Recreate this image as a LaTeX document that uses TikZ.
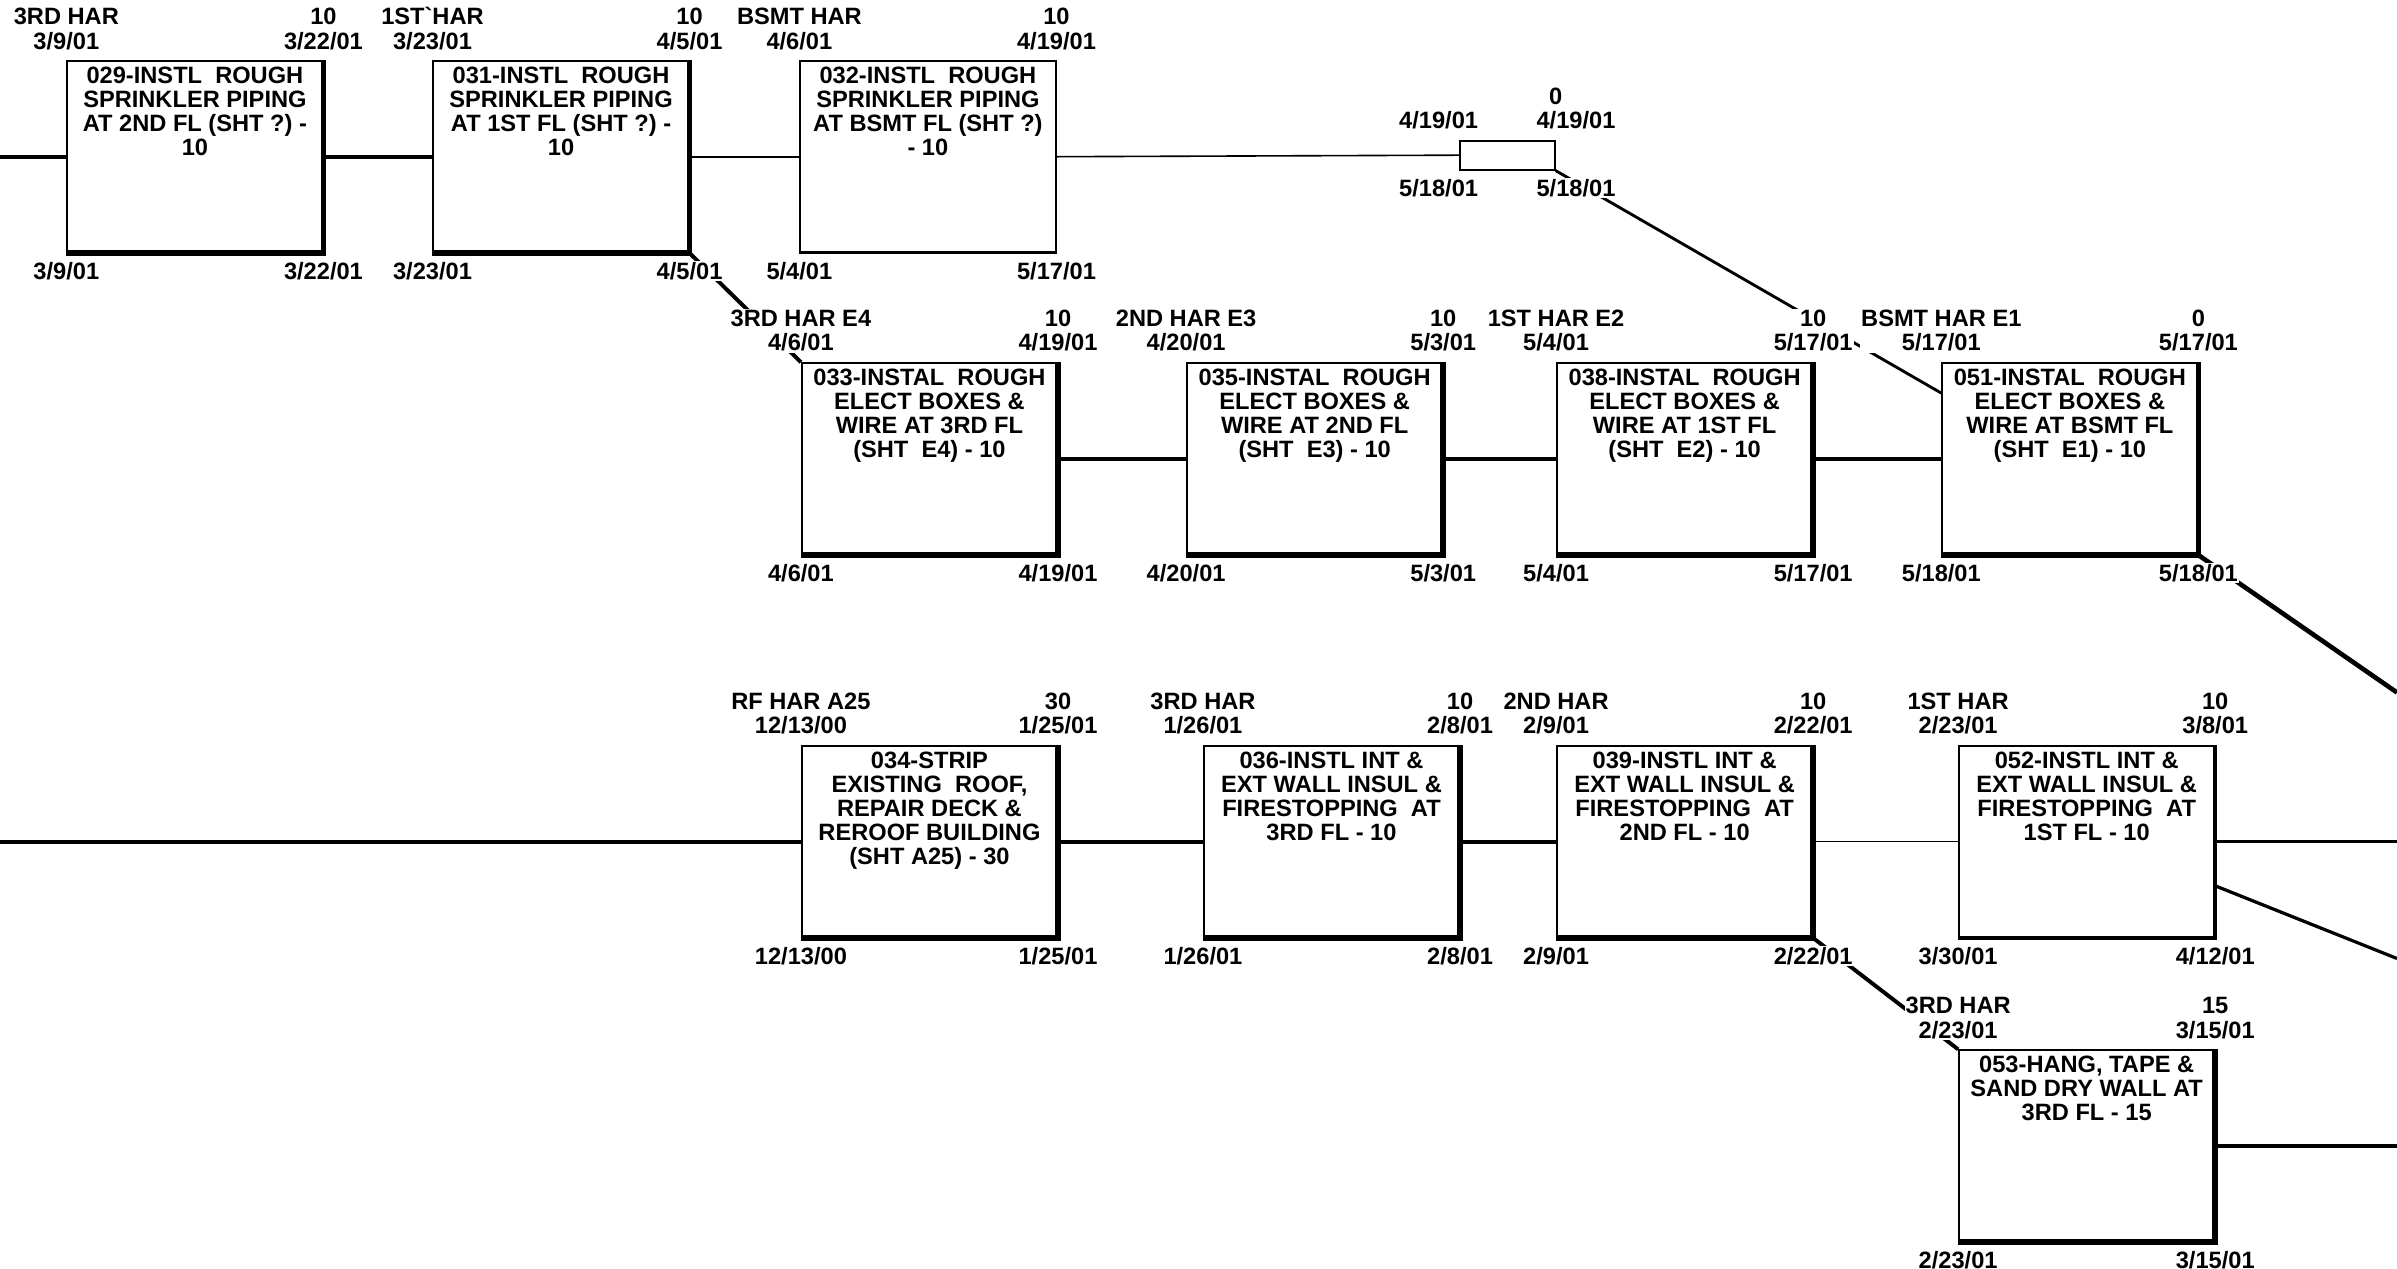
\documentclass[tikz,border=0pt]{standalone}
\usepackage{fontspec}
\setmainfont{Liberation Sans}

\pgfdeclarelayer{bg}
\pgfsetlayers{bg,main}

\newcommand{\boxfont}{\fontsize{6.6}{6.75}\selectfont\bfseries}
\newcommand{\lblfont}{\fontsize{6.6}{6.9}\selectfont\bfseries}

% activity box with its four date labels
\newcommand{\activity}[8][crit]{%
  \node[#1] (#2) at (#3) {\parbox[c][1.875cm][t]{2.505cm}{\centering\vspace*{1.6pt}#4}};
  \draw[#1edge] (#2.north east) -- (#2.south east) -- (#2.south west);
  \node[toplbl] (#2-es) at (#2.north west) {#5};
  \node[toplbl] (#2-ef) at (#2.north east) {#6};
  \node[botlbl] (#2-ls) at (#2.south west) {#7};
  \node[botlbl] (#2-lf) at (#2.south east) {#8};
}

\begin{document}
\begin{tikzpicture}[x=0.015cm, y=-0.015cm]

 \tikzset{
    crit/.style={draw, line width=0.5pt, inner sep=0pt, font=\boxfont},
    norm/.style={draw, line width=0.5pt, inner sep=0pt, font=\boxfont},
    semi/.style={draw, line width=0.5pt, inner sep=0pt, font=\boxfont},
    critedge/.style={line width=1.6pt},
    normedge/.style={line width=0.5pt},
    semiedge/.style={line width=1pt},
    toplbl/.style={anchor=south, align=center, inner sep=0.3pt, fill=white, font=\lblfont, yshift=2.5pt},
    botlbl/.style={anchor=north, inner sep=0.3pt, fill=white, font=\lblfont, yshift=-2pt},
    critline/.style={line width=1.1pt},
    normline/.style={line width=0.45pt},
  }

  \useasboundingbox (0,0) rectangle (1568,830);

  % row 1 : sprinkler piping
  \activity{b029}{127.5,102.5}{029-INSTL\ \ ROUGH\\SPRINKLER PIPING\\AT 2ND FL (SHT ?) -\\10}{3RD HAR\\3/9/01}{10\\3/22/01}{3/9/01}{3/22/01}
  \activity{b031}{367,102.5}{031-INSTL\ \ ROUGH\\SPRINKLER PIPING\\AT 1ST FL (SHT ?) -\\10}{1ST\textasciigrave HAR\\3/23/01}{10\\4/5/01}{3/23/01}{4/5/01}
  \activity[norm]{b032}{607,102.5}{032-INSTL\ \ ROUGH\\SPRINKLER PIPING\\AT BSMT FL (SHT ?)\\- 10}{BSMT HAR\\4/6/01}{10\\4/19/01}{5/4/01}{5/17/01}

  \node[norm, minimum width=0.93cm, minimum height=0.285cm] (ms) at (986,101.5) {};
  \node[toplbl, yshift=6.9pt] (ms-dur) at (ms.north east) {0};
  \node[toplbl, xshift=-0.2cm] (ms-es) at (ms.north west) {4/19/01};
  \node[toplbl, xshift=0.2cm] (ms-ef) at (ms.north east) {4/19/01};
  \node[botlbl, xshift=-0.2cm] (ms-ls) at (ms.south west) {5/18/01};
  \node[botlbl, xshift=0.2cm] (ms-lf) at (ms.south east) {5/18/01};

  % row 2 : electrical rough-in
  \activity{b033}{608,300}{033-INSTAL\ \ ROUGH\\ELECT BOXES \&\\WIRE AT 3RD FL\\(SHT\ \ E4) - 10}{3RD HAR E4\\4/6/01}{10\\4/19/01}{4/6/01}{4/19/01}
  \activity{b035}{860,300}{035-INSTAL\ \ ROUGH\\ELECT BOXES \&\\WIRE AT 2ND FL\\(SHT\ \ E3) - 10}{2ND HAR E3\\4/20/01}{10\\5/3/01}{4/20/01}{5/3/01}
  \activity{b038}{1102,300}{038-INSTAL\ \ ROUGH\\ELECT BOXES \&\\WIRE AT 1ST FL\\(SHT\ \ E2) - 10}{1ST HAR E2\\5/4/01}{10\\5/17/01}{5/4/01}{5/17/01}
  \activity{b051}{1354,300}{051-INSTAL\ \ ROUGH\\ELECT BOXES \&\\WIRE AT BSMT FL\\(SHT\ \ E1) - 10}{BSMT HAR E1\\5/17/01}{0\\5/17/01}{5/18/01}{5/18/01}

  % row 3 : roof and insulation
  \activity{b034}{608,550.5}{034-STRIP\\EXISTING\ \ ROOF,\\REPAIR DECK \&\\REROOF BUILDING\\(SHT A25) - 30}{RF HAR A25\\12/13/00}{30\\1/25/01}{12/13/00}{1/25/01}
  \activity{b036}{871,550.5}{036-INSTL INT \&\\EXT WALL INSUL \&\\FIRESTOPPING\ \ AT\\3RD FL - 10}{3RD HAR\\1/26/01}{10\\2/8/01}{1/26/01}{2/8/01}
  \activity{b039}{1102,550.5}{039-INSTL INT \&\\EXT WALL INSUL \&\\FIRESTOPPING\ \ AT\\2ND FL - 10}{2ND HAR\\2/9/01}{10\\2/22/01}{2/9/01}{2/22/01}
  \activity[semi]{b052}{1365,550.5}{052-INSTL INT \&\\EXT WALL INSUL \&\\FIRESTOPPING\ \ AT\\1ST FL - 10}{1ST HAR\\2/23/01}{10\\3/8/01}{3/30/01}{4/12/01}

  % row 4 : drywall
  \activity{b053}{1365,749.5}{053-HANG, TAPE \&\\SAND DRY WALL AT\\3RD FL - 15}{3RD HAR\\2/23/01}{15\\3/15/01}{2/23/01}{3/15/01}

  \coordinate (in1) at (0,102.5);
  \coordinate (in3) at (0,550.5);
  \coordinate (outA) at (1568,453);
  \coordinate (outB) at (1568,550.5);
  \coordinate (outC) at (1568,627);
  \coordinate (outD) at (1568,749.5);

  \begin{pgfonlayer}{bg}
    \fill[white] (0,0) rectangle (1568,830);
    \draw[critline] (in1) -- (b029.west);
    \draw[critline] (b029.east) -- (b031.west);
    \draw[normline] (b031.east) -- (b032.west);
    \draw[normline] (b032.east) -- (ms.west);
    \draw[line width=0.8pt] (ms.south east) -- (b051.153);
    \draw[critline] (b031.south east) -- (b033.north west);
    \draw[critline] (b033.east) -- (b035.west);
    \draw[critline] (b035.east) -- (b038.west);
    \draw[critline] (b038.east) -- (b051.west);
    \draw[line width=1.3pt] (b051.south east) -- (outA);
    \draw[critline] (in3) -- (b034.west);
    \draw[critline] (b034.east) -- (b036.west);
    \draw[critline] (b036.east) -- (b039.west);
    \draw[normline] (b039.east) -- (b052.west);
    \draw[line width=0.6pt] (b052.east) -- (outB);
    \draw[line width=0.9pt] (b052.-19) -- (outC);
    \draw[critline] (b039.south east) -- (b053.north west);
    \draw[critline] (b053.east) -- (outD);
  \end{pgfonlayer}
\end{tikzpicture}
\end{document}
